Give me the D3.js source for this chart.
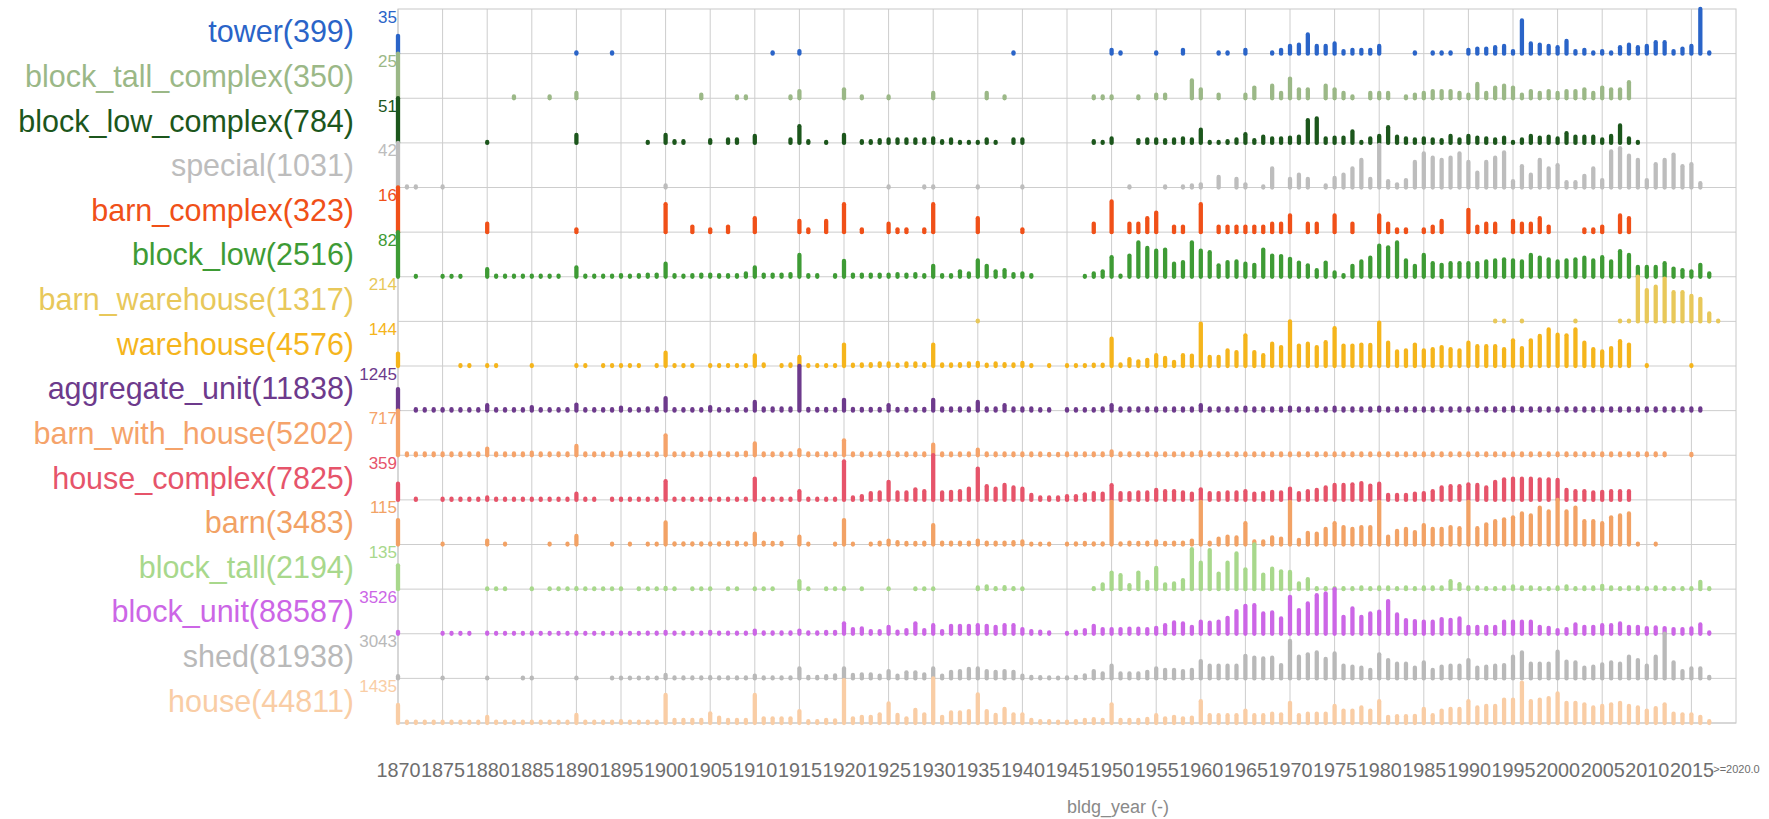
<!DOCTYPE html>
<html>
<head>
<meta charset="utf-8">
<script src="https://cdn.jsdelivr.net/npm/d3@7"></script>
<style>
    body { margin: 0; background: #ffffff; }
    #chart { width: 1769px; height: 819px; }
    text { font-family: "Liberation Sans", Arial, Helvetica, sans-serif; }
</style>
</head>
<body>
<div id="chart"></div>
<script>
// ---- data (one value per year, starting at 1870) ----
const firstYear = 1870;
const lastYear = 2020;
const tickYears = [1870, 1875, 1880, 1885, 1890, 1895, 1900, 1905, 1910, 1915, 1920, 1925, 1930, 1935, 1940,
    1945, 1950, 1955, 1960, 1965, 1970, 1975, 1980, 1985, 1990, 1995, 2000, 2005, 2010, 2015];
const endTickLabel = ">=2020.0";
const axisTitle = "bldg_year (-)";

const rowNames = ["tower", "block_tall_complex", "block_low_complex", "special", "barn_complex", "block_low",
    "barn_warehouse", "warehouse", "aggregate_unit", "barn_with_house", "house_complex", "barn",
    "block_tall", "block_unit", "shed", "house"];
const rowTotals = [399, 350, 784, 1031, 323, 2516, 1317, 4576, 11838, 5202, 7825, 3483, 2194, 88587, 81938, 44811];
const rowMax = [35, 25, 51, 42, 16, 82, 214, 144, 1245, 717, 359, 115, 135, 3526, 3043, 1435];

const tower = [
    14,0,0,0,0,0,0,0,0,0,  0,0,0,0,0,0,0,0,0,0,  1,0,0,0,1,0,0,0,0,0,  0,0,0,0,0,0,0,0,0,0,
    0,0,1,0,0,2,0,0,0,0,  0,0,0,0,0,0,0,0,0,0,  0,0,0,0,0,0,0,0,0,1,  0,0,0,0,0,0,0,0,0,0,
    3,1,0,0,0,1,0,0,3,0,  0,0,1,1,0,3,0,0,1,3,  6,7,15,6,6,8,2,3,3,3,  6,0,0,0,1,0,1,1,1,0,
    3,4,4,5,6,2,26,8,7,6,  5,10,2,3,1,2,1,5,7,5,  6,9,9,2,4,6,35,1];
const blockTallComplex = [
    25,0,0,0,0,0,0,0,0,0,  0,0,0,1,0,0,0,1,0,0,  3,0,0,0,0,0,0,0,0,0,  0,0,0,0,2,0,0,0,1,1,
    0,0,0,0,1,4,0,0,0,0,  5,0,1,0,0,1,0,0,0,0,  3,0,0,0,0,0,3,0,1,0,  0,0,0,0,0,0,0,0,1,1,
    1,0,0,1,0,2,2,0,0,10,  5,0,2,0,0,2,6,0,7,3,  11,5,5,0,7,5,3,1,0,3,  3,3,0,1,2,3,4,4,4,3,
    2,8,3,6,7,6,2,4,3,4,  3,4,4,5,3,6,5,5,9];
const blockLowComplex = [
    51,0,0,0,0,0,0,0,0,0,  1,0,0,0,0,0,0,0,0,0,  9,0,0,0,0,0,0,0,1,0,  9,2,2,0,0,3,0,4,4,0,
    8,0,0,0,4,19,2,0,1,0,  9,0,2,2,3,4,4,4,4,4,  5,2,4,1,1,1,4,1,0,4,  4,0,0,0,0,0,0,0,2,1,
    5,0,0,3,4,4,3,4,5,4,  15,1,1,2,4,10,3,7,5,5,  6,7,26,28,5,6,6,13,1,5,  8,18,7,5,4,5,4,3,8,4,
    8,6,5,4,6,1,4,8,6,7,  5,11,7,7,7,4,8,20,5,1];
const special = [
    42,1,1,0,0,1,0,0,0,0,  0,0,0,0,0,0,0,0,0,0,  0,0,0,0,0,0,0,0,0,0,  2,0,0,0,0,0,0,0,0,0,
    0,0,0,0,0,0,0,0,0,0,  0,0,0,0,0,1,0,0,0,1,  1,0,0,0,0,1,0,0,0,0,  1,0,0,0,0,0,0,0,0,0,
    0,0,1,0,0,0,1,0,1,2,  3,0,10,0,8,3,0,1,18,0,  8,12,8,0,2,9,12,18,26,8,  40,6,3,7,24,32,28,26,28,32,
    24,14,24,28,33,6,20,12,26,18,  21,5,5,11,18,7,34,37,30,26,  7,22,26,31,20,22,4];
const barnComplex = [
    16,0,0,0,0,0,0,0,0,0,  3,0,0,0,0,0,0,0,0,0,  1,0,0,0,0,0,0,0,0,0,  10,0,0,2,0,1,0,2,0,0,
    5,0,0,0,0,4,1,0,4,0,  10,0,1,0,0,3,1,1,0,1,  10,0,0,0,0,5,0,0,0,0,  1,0,0,0,0,0,0,0,3,0,
    11,0,3,3,5,7,0,2,2,0,  10,0,2,2,2,2,2,2,3,3,  6,0,3,3,0,6,0,3,0,0,  6,3,1,1,0,1,2,4,0,0,
    8,2,3,3,0,4,3,3,5,2,  0,0,0,1,1,2,0,6,5];
const blockLow = [
    82,0,1,0,0,1,1,1,0,0,  14,2,2,2,2,2,2,2,2,0,  17,2,2,2,2,3,2,3,4,4,  24,3,2,3,4,4,3,3,3,6,
    17,4,4,4,5,40,3,3,0,3,  29,4,4,4,4,4,5,4,5,3,  20,3,3,10,6,30,20,10,12,5,  6,3,0,0,0,0,0,1,6,10,
    36,2,39,63,53,48,50,24,27,63,  48,45,21,27,28,24,22,50,39,38,  33,26,21,12,26,8,3,20,28,35,
    57,54,63,30,20,40,25,22,25,25,  25,25,28,30,32,30,28,40,35,32,  28,30,32,35,30,36,28,47,40,18,
    18,18,25,15,12,10,22,6];
const barnWarehouse = [
    0,0,0,0,0,0,0,0,0,0,  0,0,0,0,0,0,0,0,0,0,  0,0,0,0,0,0,0,0,0,0,  0,0,0,0,0,0,0,0,0,0,
    0,0,0,0,0,0,0,0,0,0,  0,0,0,0,0,0,0,0,0,0,  0,0,0,0,0,1,0,0,0,0,  0,0,0,0,0,0,0,0,0,0,
    0,0,0,0,0,0,0,0,0,0,  0,0,0,0,0,0,0,0,0,0,  0,0,0,0,0,0,0,0,0,0,  0,0,0,0,0,0,0,0,0,0,
    0,0,0,1,1,0,1,0,0,0,  0,0,1,0,0,0,0,1,1,214,  150,166,205,140,140,122,108,38,1];
const warehouse = [
    40,0,0,0,0,0,0,1,1,0,  2,1,0,0,0,1,0,0,0,0,  2,1,0,1,1,1,1,1,0,1,  43,3,3,2,0,3,2,2,2,2,
    34,5,0,1,5,29,1,2,2,3,  69,4,5,6,8,8,4,8,8,6,  69,5,5,6,8,10,4,8,6,5,  10,3,0,1,0,1,2,3,4,4,
    88,5,22,15,20,35,26,13,35,33,  137,29,29,50,45,99,45,35,72,61,  144,66,72,61,77,122,66,66,69,68,
    140,75,47,50,69,50,54,61,54,50,  75,64,64,64,54,83,58,83,97,118,  101,99,118,75,54,47,58,80,69,0,
    1,0,0,0,0,1];
const aggregateUnit = [
    600,0,40,40,40,40,40,40,40,40,  150,40,40,40,40,100,40,40,40,40,  170,40,40,40,40,80,40,40,60,60,
    350,40,40,40,40,100,40,40,40,40,  240,60,60,60,60,1245,50,50,50,50,  300,50,50,50,50,150,50,50,50,50,
    300,60,60,60,60,240,60,60,150,60,  60,60,40,40,0,40,40,40,40,60,  150,60,60,60,60,60,60,60,60,60,
    150,60,60,60,60,80,60,60,60,60,  80,60,60,60,60,80,60,60,60,60,  80,60,60,60,60,60,60,60,60,60,
    60,60,60,60,60,80,60,60,60,60,  60,60,60,60,60,60,60,60,60,60,  60,60,60,60,60,60,60];
const barnWithHouse = [
    717,30,30,30,30,30,30,30,30,30,  107,30,30,30,30,40,30,30,30,30,  150,30,30,30,30,40,30,30,30,30,
    320,30,30,30,30,40,30,30,30,40,  190,30,30,30,30,80,30,30,30,30,  240,30,30,30,30,40,30,30,30,30,
    170,30,30,30,30,90,30,30,30,30,  30,30,30,20,20,30,30,30,30,30,  60,30,30,30,30,30,30,30,30,30,
    50,30,30,30,30,30,30,30,30,30,  30,30,30,30,30,30,30,30,30,30,  30,30,30,30,30,30,30,30,30,30,
    30,30,30,30,30,30,30,30,30,30,  30,30,30,30,30,30,30,30,30,30,  30,30,30,0,0,20];
const houseComplex = [
    130,0,10,0,0,10,10,10,10,10,  20,10,10,10,10,10,10,10,10,10,  50,10,10,0,10,10,10,10,10,10,
    150,10,10,10,10,10,10,10,10,10,  171,10,10,10,10,70,10,10,10,10,  310,20,30,55,60,145,60,60,85,70,
    359,60,65,70,90,252,110,90,120,100,  90,40,20,20,20,30,30,45,55,50,  118,55,55,60,60,80,70,70,60,50,
    85,55,55,60,60,70,50,55,65,60,  90,55,70,80,100,120,120,125,135,115,  130,40,40,40,50,55,70,100,110,110,
    125,120,100,145,165,170,170,170,165,165,  160,80,70,70,60,65,70,70,70];
const barn = [
    63,0,0,0,0,1,0,0,0,0,  10,0,1,0,0,0,0,1,0,2,  22,0,0,0,1,0,1,0,2,2,  57,3,3,3,3,3,3,5,5,3,
    28,5,4,4,0,20,2,0,0,1,  63,2,0,2,5,10,6,4,4,5,  50,5,5,5,5,10,5,5,5,6,  8,2,1,2,0,2,3,4,3,3,
    110,3,5,4,5,8,4,5,5,10,  110,5,15,20,18,55,8,8,18,15,  110,12,30,28,40,55,45,40,45,45,
    110,20,35,40,32,50,40,40,45,42,  110,42,52,60,65,70,80,75,95,85,  115,85,95,60,60,55,70,75,80,1,
    0,1];
const blockTall = [
    72,0,0,0,0,0,0,0,0,0,  2,2,2,0,0,2,0,2,2,2,  3,2,2,2,2,2,0,2,2,2,  4,2,0,2,2,2,0,2,2,0,
    2,2,2,0,0,24,1,0,2,2,  3,0,2,0,0,2,0,0,2,2,  2,0,0,0,0,5,8,3,6,3,  2,0,0,0,0,0,0,0,3,14,
    50,42,12,50,22,64,14,17,27,121,  80,118,47,80,108,60,135,44,62,54,  52,17,30,3,3,3,3,3,5,3,
    5,5,3,5,3,5,5,5,24,15,  5,5,3,3,5,8,5,5,3,3,  5,8,3,5,5,10,5,3,5,5,  3,5,3,3,3,3,22,3];
const blockUnit = [
    150,0,0,0,0,60,60,60,60,0,  80,60,60,60,60,80,60,60,60,60,  80,60,60,60,60,80,60,60,80,80,
    150,80,80,80,80,150,80,80,80,80,  250,100,100,100,100,250,100,100,150,150,
    820,370,420,210,210,550,160,290,820,290,  680,210,630,630,630,680,630,550,680,680,
    370,210,160,100,0,60,160,290,630,370,  370,370,400,400,370,470,680,890,810,550,
    950,870,950,1260,1790,2210,2260,1600,1680,1210,  2920,1870,2400,3050,3180,3526,1340,2000,1340,1600,
    1740,2580,1530,1080,1000,950,950,1160,1100,1210,  550,550,550,550,950,950,950,950,550,470,
    290,370,740,550,550,680,680,810,550,550,  450,500,450,370,370,420,740,100];
const shed = [
    150,0,0,0,0,40,0,0,0,0,  40,0,0,0,40,40,0,0,0,0,  40,0,0,0,50,50,50,50,50,50,
    230,60,60,60,60,80,60,60,60,60,  180,60,60,60,60,680,100,100,150,200,
    680,230,270,270,180,500,180,410,410,270,  680,180,450,500,640,680,500,450,500,450,
    180,100,80,60,50,60,100,200,500,340,  860,340,340,340,450,680,570,570,500,570,
    1180,860,860,860,860,1540,1410,1360,1410,910,  2550,1480,1640,1770,1320,1700,860,800,730,570,
    1640,1250,1000,1000,730,1090,570,800,860,860,  1250,730,800,860,910,1480,1770,1000,1000,1000,
    1820,1140,1090,730,800,950,1090,1000,1480,1250,  860,1480,3043,1090,500,680,680,100];
const house = [
    580,40,40,40,40,40,40,40,40,40,  200,40,40,40,40,40,40,40,40,40,  260,40,40,40,40,60,40,40,40,40,
    900,100,100,100,100,310,170,100,100,100,  900,150,150,150,150,385,60,60,100,80,
    1380,150,200,200,280,630,260,150,420,280,  1435,200,340,340,385,920,385,260,450,280,
    280,100,60,60,40,40,60,100,120,100,  600,100,100,100,130,250,150,200,150,170,
    700,250,250,250,250,400,250,250,300,280,  650,250,300,300,300,550,400,400,500,400,
    700,200,220,220,230,450,250,400,450,450,  700,500,550,550,750,750,1300,700,750,800,
    950,650,650,600,500,550,600,650,550,500,  400,480,600,300,280,280,200,60];

const rowValues = [tower, blockTallComplex, blockLowComplex, special, barnComplex, blockLow,
    barnWarehouse, warehouse, aggregateUnit, barnWithHouse, houseComplex, barn,
    blockTall, blockUnit, shed, house];


class YearStrips {

    constructor(parentElement, names, totals, maxes, values) {
        this.parentElement = parentElement;
        this.names = names;
        this.totals = totals;
        this.maxes = maxes;
        this.values = values;

        // one colour per row, top to bottom
        this.colors = ['#2a64c8', '#9bb887', '#1c561c', '#bdbdbd', '#f05018', '#3e9b35',
            '#e8c85a', '#f5b51c', '#6d3a8c', '#f5a36a', '#e6546a', '#f2a265',
            '#a8d88c', '#cc66e6', '#b9b9b9', '#f9cda5'];
        this.initVis();
    }

    initVis() {
        let vis = this;

        vis.margin = {top: 9, right: 33, bottom: 96, left: 398};
        vis.width = 1769 - vis.margin.left - vis.margin.right;
        vis.height = 819 - vis.margin.top - vis.margin.bottom;
        vis.rowHeight = vis.height / vis.names.length;

        vis.svg = d3.select("#" + vis.parentElement).append("svg")
            .attr("width", 1769)
            .attr("height", 819)
            .append("g")
            .attr("transform", `translate(${vis.margin.left}, ${vis.margin.top})`);

        vis.x = d3.scaleLinear()
            .domain([firstYear, lastYear])
            .range([0, vis.width]);

        vis.rows = d3.scaleBand()
            .domain(vis.names)
            .range([0, vis.height]);

        // grid
        vis.grid = vis.svg.append("g").attr("class", "grid");

        vis.grid.selectAll(".vline")
            .data(tickYears)
            .enter().append("line")
            .attr("class", "vline")
            .attr("x1", d => vis.x(d))
            .attr("x2", d => vis.x(d))
            .attr("y1", 0)
            .attr("y2", vis.height)
            .attr("stroke", "#cdcdcd")
            .attr("stroke-width", 1);

        vis.grid.selectAll(".hline")
            .data(vis.names)
            .enter().append("line")
            .attr("class", "hline")
            .attr("x1", 0)
            .attr("x2", vis.width)
            .attr("y1", d => vis.rows(d) + vis.rows.bandwidth())
            .attr("y2", d => vis.rows(d) + vis.rows.bandwidth())
            .attr("stroke", "#cdcdcd")
            .attr("stroke-width", 1);

        vis.grid.append("rect")
            .attr("width", vis.width)
            .attr("height", vis.height)
            .attr("fill", "none")
            .attr("stroke", "#c8c8c8")
            .attr("stroke-width", 1);

        // x axis
        vis.xAxis = d3.axisBottom(vis.x)
            .tickValues(tickYears.concat([lastYear]))
            .tickSize(0)
            .tickPadding(0)
            .tickFormat(d => d === lastYear ? endTickLabel : d);

        vis.axisGroup = vis.svg.append("g")
            .attr("class", "x-axis")
            .attr("transform", `translate(0, ${vis.height})`)
            .call(vis.xAxis);

        vis.axisGroup.select(".domain").remove();
        vis.axisGroup.selectAll("text")
            .attr("y", 53.5)
            .attr("dy", null)
            .attr("fill", "#6e6e6e")
            .style("font-size", d => d === lastYear ? "11px" : "19.8px")
            .attr("transform", d => d === lastYear ? "translate(0,-4)" : null);

        vis.svg.append("text")
            .attr("x", vis.width / 2)
            .attr("y", vis.height + 90)
            .attr("fill", "#8a8a8a")
            .style("font-size", "18px")
            .text(axisTitle);

        vis.wrangleData();
    }

    wrangleData() {
        let vis = this;

        vis.rowData = vis.names.map((name, i) => {
            let bars = [];
            vis.values[i].forEach((v, j) => {
                if (v > 0) bars.push({year: firstYear + j, value: v});
            });
            return {
                name: name,
                total: vis.totals[i],
                max: vis.maxes[i],
                color: vis.colors[i],
                bars: bars
            };
        });

        vis.updateVis();
    }

    updateVis() {
        let vis = this;

        let rowGroups = vis.svg.selectAll(".row")
            .data(vis.rowData)
            .enter().append("g")
            .attr("class", "row")
            .attr("transform", d => `translate(0, ${vis.rows(d.name)})`);

        rowGroups.each(function (row) {
            let g = d3.select(this);
            let y = d3.scaleLinear()
                .domain([0, row.max])
                .range([vis.rowHeight, 0]);

            g.selectAll(".bar")
                .data(row.bars)
                .enter().append("line")
                .attr("class", "bar")
                .attr("x1", d => vis.x(d.year))
                .attr("x2", d => vis.x(d.year))
                .attr("y1", y(0))
                .attr("y2", d => Math.min(y(d.value), y(0) - 0.8))
                .attr("stroke", row.color)
                .attr("stroke-width", 4.3)
                .attr("stroke-linecap", "round");

            // row maximum, top left of the strip
            g.append("text")
                .attr("x", -1)
                .attr("y", 13.5)
                .attr("text-anchor", "end")
                .attr("fill", row.color)
                .style("font-size", "17px")
                .text(row.max);

            // category name with count
            g.append("text")
                .attr("x", -44)
                .attr("y", vis.rowHeight / 2 + 11)
                .attr("text-anchor", "end")
                .attr("fill", row.color)
                .style("font-size", "30.5px")
                .text(`${row.name}(${row.total})`);
        });
    }
}

new YearStrips("chart", rowNames, rowTotals, rowMax, rowValues);
</script>
</body>
</html>
